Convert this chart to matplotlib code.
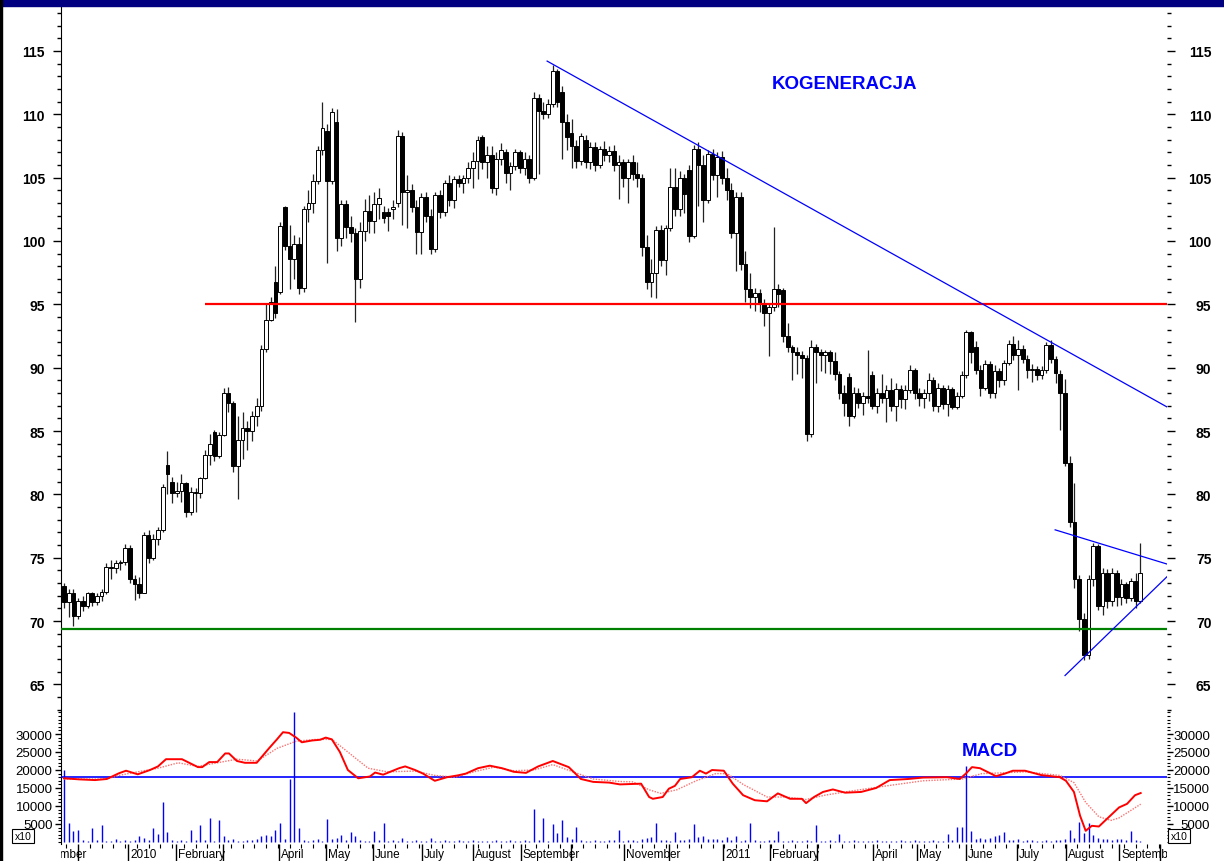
import numpy as np
import matplotlib
matplotlib.use("Agg")
import matplotlib.pyplot as plt
from matplotlib.patches import Rectangle
from matplotlib.transforms import Bbox, TransformedBbox, blended_transform_factory

plt.rcParams['font.family'] = ['Liberation Sans', 'DejaVu Sans']

# KOGENERACJA daily bars, sampled every second session (Nov 2009 - Sep 2011)
opens = [
    72.8, 71.5, 72.2, 70.4, 71.6, 71.2, 72.2, 71.5, 72.0, 72.3,
    74.3, 74.2, 74.6, 74.7, 75.8, 73.3, 72.9, 72.2, 76.8, 75.0,
    76.5, 77.2, 82.3, 81.0, 80.1, 80.3, 80.9, 78.6, 80.2, 80.1,
    81.3, 83.1, 84.9, 83.0, 84.7, 88.0, 87.2, 82.2, 84.3, 85.2,
    85.0, 86.2, 87.0, 91.5, 93.8, 96.8, 96.0, 102.7, 99.6, 98.6,
    99.8, 96.3, 102.5, 103.0, 104.7, 107.2, 108.7, 104.7, 109.4, 100.2,
    102.9, 101.1, 100.6, 97.0, 100.8, 102.4, 101.6, 102.9, 102.3, 102.3,
    102.5, 103.0, 108.3, 103.9, 104.0, 102.7, 100.7, 103.5, 102.0, 99.4,
    103.6, 102.3, 104.6, 103.2, 104.9, 104.6, 105.0, 105.8, 106.3, 108.2,
    106.2, 106.8, 104.2, 106.5, 107.0, 105.4, 105.9, 107.0, 105.8, 106.5,
    105.0, 111.3, 110.3, 110.0, 110.8, 113.4, 111.8, 109.4, 108.5, 107.5,
    106.3, 108.0, 106.2, 107.4, 106.0, 107.3, 106.8, 107.1, 106.0, 106.2,
    105.0, 106.2, 105.3, 105.0, 99.5, 96.8, 97.5, 100.9, 98.5, 101.0,
    104.3, 102.5, 105.0, 105.6, 100.4, 107.3, 106.0, 103.2, 106.9, 105.2,
    106.6, 105.0, 104.0, 100.6, 103.5, 98.2, 96.2, 95.6, 95.9, 95.0,
    94.3, 94.8, 96.2, 96.1, 92.5, 91.6, 91.2, 91.0, 90.8, 84.8,
    91.6, 91.2, 91.0, 91.2, 90.5, 89.5, 88.0, 89.3, 86.2, 88.0,
    87.2, 87.8, 89.4, 87.0, 88.0, 87.6, 88.2, 87.0, 88.3, 87.5,
    88.2, 89.8, 88.0, 87.6, 88.0, 89.0, 87.0, 88.4, 87.1, 88.3,
    86.9, 87.8, 89.4, 92.8, 91.6, 89.8, 88.4, 90.3, 88.0, 89.7,
    89.0, 90.4, 91.9, 91.0, 91.5, 90.7, 89.8, 89.9, 89.4, 89.8,
    91.8, 90.7, 89.5, 88.0, 82.5, 77.8, 73.3, 70.2, 67.3, 73.3,
    75.9, 71.2, 73.8, 71.6, 73.8, 71.9, 72.9, 71.8, 73.2, 71.6,
]
highs = [
    73.0, 72.5, 72.5, 71.8, 72.0, 72.3, 72.3, 72.2, 72.5, 74.6,
    74.8, 74.8, 74.8, 76.1, 76.0, 73.6, 73.5, 77.0, 77.2, 76.9,
    77.4, 80.8, 83.4, 81.4, 81.0, 81.6, 81.0, 80.6, 80.5, 81.4,
    83.5, 84.8, 85.1, 84.9, 88.4, 88.5, 87.4, 86.2, 86.5, 85.8,
    86.6, 87.6, 91.8, 95.0, 95.6, 98.0, 101.5, 102.8, 101.3, 100.5,
    100.3, 102.8, 104.0, 105.3, 107.5, 111.0, 109.2, 110.5, 110.4, 103.2,
    103.2, 102.0, 101.0, 101.5, 103.3, 103.6, 103.9, 104.2, 102.8, 102.6,
    103.2, 108.8, 108.6, 105.2, 104.5, 103.2, 103.8, 103.9, 102.5, 103.9,
    104.0, 104.8, 105.2, 105.1, 105.2, 105.2, 106.2, 107.0, 108.3, 108.4,
    107.5, 107.5, 107.0, 107.7, 107.3, 106.2, 107.3, 107.2, 107.0, 106.8,
    111.8, 111.6, 111.0, 111.2, 113.9, 113.6, 112.2, 110.0, 109.6, 108.0,
    108.5, 108.4, 107.8, 107.8, 107.5, 107.9, 107.5, 107.6, 106.8, 106.5,
    106.5, 106.8, 106.2, 105.3, 100.5, 98.6, 101.2, 101.3, 101.3, 105.8,
    105.8, 105.5, 105.3, 106.0, 107.6, 107.8, 106.8, 107.2, 107.3, 107.0,
    107.1, 105.8, 104.6, 103.9, 103.9, 99.2, 97.5, 96.3, 96.2, 95.4,
    95.0, 101.1, 96.6, 96.3, 93.5, 91.8, 91.6, 91.3, 91.0, 92.2,
    91.9, 91.5, 91.4, 91.4, 91.2, 89.7, 88.6, 89.6, 88.5, 88.4,
    88.1, 91.4, 89.7, 88.4, 89.5, 88.6, 89.2, 88.8, 88.6, 88.6,
    90.2, 90.0, 88.4, 88.3, 89.6, 89.3, 88.8, 88.6, 88.6, 88.5,
    88.1, 89.7, 93.0, 92.9, 92.1, 90.2, 90.6, 90.5, 90.2, 90.0,
    90.6, 92.2, 92.5, 92.2, 91.8, 91.0, 90.3, 90.1, 90.1, 92.0,
    92.2, 90.9, 89.8, 89.1, 83.0, 80.9, 73.6, 70.6, 73.6, 76.2,
    76.1, 74.2, 74.1, 74.2, 74.0, 73.3, 73.1, 73.4, 73.8, 76.2,
]
lows = [
    71.0, 70.3, 69.6, 70.2, 70.8, 71.0, 71.2, 71.3, 71.6, 72.1,
    73.3, 73.8, 74.0, 74.4, 73.0, 71.7, 71.8, 72.2, 74.6, 74.8,
    76.0, 77.0, 80.0, 79.3, 79.8, 79.4, 78.2, 78.4, 78.6, 79.7,
    81.2, 82.3, 82.6, 82.9, 84.6, 86.5, 81.8, 79.6, 82.8, 83.5,
    84.2, 85.4, 86.6, 91.2, 93.7, 93.9, 95.8, 99.3, 96.2, 97.0,
    95.8, 96.0, 101.5, 102.2, 104.5, 106.8, 98.3, 104.5, 99.2, 99.6,
    100.2, 99.9, 93.6, 96.3, 100.0, 100.6, 100.6, 101.7, 101.4, 100.8,
    101.7, 102.7, 101.3, 101.0, 102.3, 99.0, 99.0, 101.5, 99.0, 99.1,
    101.8, 102.0, 102.8, 102.6, 104.3, 103.8, 104.6, 104.2, 104.9, 105.7,
    105.0, 103.8, 103.6, 106.0, 104.6, 104.0, 105.6, 105.4, 105.2, 104.6,
    104.8, 105.3, 109.6, 109.7, 110.6, 110.6, 106.5, 107.2, 105.8, 105.8,
    106.0, 105.8, 105.7, 105.5, 105.8, 106.3, 106.2, 105.5, 103.3, 104.3,
    103.0, 104.8, 104.3, 98.8, 96.2, 95.6, 95.5, 98.0, 97.3, 100.8,
    102.0, 102.0, 102.2, 99.9, 100.2, 102.8, 101.5, 103.0, 104.8, 103.5,
    104.5, 103.2, 100.2, 97.6, 97.7, 95.2, 94.7, 94.5, 94.4, 93.3,
    90.9, 94.5, 94.8, 92.0, 91.2, 89.0, 89.5, 89.2, 84.2, 84.5,
    88.8, 89.7, 89.6, 89.5, 89.0, 87.5, 86.2, 85.4, 86.0, 86.8,
    86.3, 87.2, 86.7, 86.4, 87.2, 85.7, 86.6, 85.8, 86.8, 86.7,
    88.0, 87.5, 87.0, 86.8, 87.4, 86.6, 86.5, 86.7, 86.2, 86.7,
    86.7, 87.6, 89.2, 90.4, 89.5, 87.8, 88.2, 87.6, 87.6, 88.5,
    88.6, 90.2, 90.6, 88.2, 90.4, 89.2, 88.9, 89.0, 89.1, 89.6,
    90.4, 88.8, 85.1, 82.2, 77.4, 72.6, 69.2, 66.9, 67.0, 72.8,
    70.9, 70.5, 71.0, 71.2, 71.2, 71.3, 71.4, 71.6, 71.0, 71.4,
]
closes = [
    71.5, 72.2, 70.4, 71.6, 71.2, 72.2, 71.5, 72.0, 72.3, 74.3,
    74.2, 74.6, 74.7, 75.8, 73.3, 72.9, 72.2, 76.8, 75.0, 76.5,
    77.2, 80.6, 81.6, 80.1, 80.3, 80.9, 78.6, 80.2, 80.1, 81.3,
    83.1, 84.0, 83.0, 84.7, 88.0, 87.2, 82.2, 84.3, 85.2, 85.0,
    86.2, 87.0, 91.5, 93.8, 95.2, 94.3, 101.2, 99.6, 98.6, 99.8,
    96.3, 102.5, 103.0, 104.7, 107.2, 108.9, 104.7, 110.2, 100.2, 102.9,
    101.1, 100.6, 97.0, 100.8, 102.4, 101.6, 102.9, 103.4, 101.8, 102.0,
    102.7, 108.3, 103.9, 104.0, 102.7, 100.7, 103.5, 102.0, 99.4, 103.6,
    102.3, 104.6, 103.2, 104.9, 104.6, 105.0, 105.8, 106.3, 108.0, 106.2,
    106.8, 104.2, 106.5, 107.2, 105.4, 105.9, 107.0, 105.8, 106.5, 105.0,
    111.3, 110.3, 110.0, 110.8, 113.4, 111.0, 109.4, 108.2, 107.5, 106.3,
    108.3, 106.2, 107.4, 106.0, 107.3, 106.8, 107.1, 106.0, 106.2, 105.0,
    106.2, 105.3, 105.0, 99.5, 96.8, 97.5, 100.9, 98.5, 101.0, 104.3,
    102.5, 105.0, 103.7, 100.4, 107.3, 106.0, 103.2, 106.9, 105.2, 106.6,
    105.0, 104.0, 100.6, 103.5, 98.2, 96.2, 95.6, 95.9, 95.0, 94.3,
    94.8, 96.2, 95.8, 92.5, 91.6, 91.2, 91.0, 90.8, 84.8, 91.6,
    91.2, 91.0, 91.2, 90.5, 89.5, 88.0, 87.2, 86.2, 88.0, 87.2,
    87.8, 87.6, 87.0, 88.0, 87.6, 88.2, 87.0, 88.3, 87.5, 88.2,
    89.8, 88.0, 87.6, 88.0, 89.0, 87.0, 88.4, 87.1, 88.3, 86.9,
    87.8, 89.4, 92.8, 91.2, 89.8, 88.4, 90.3, 88.0, 89.7, 89.0,
    90.4, 91.9, 91.0, 91.5, 90.7, 89.8, 89.9, 89.4, 89.8, 91.8,
    90.7, 89.6, 88.0, 82.5, 77.8, 73.3, 70.2, 67.3, 73.3, 75.9,
    71.2, 73.8, 71.6, 73.8, 71.9, 72.9, 71.8, 73.2, 71.6, 73.8,
]
volume = [
    20000, 5300, 3000, 3300, 600, 400, 3800, 500, 4700, 300,
    400, 700, 300, 500, 400, 600, 1800, 1200, 500, 4000,
    2300, 11200, 2800, 600, 400, 500, 300, 3400, 600, 4700,
    500, 6700, 400, 6000, 1800, 500, 900, 400, 300, 600,
    500, 700, 1800, 2000, 1600, 3400, 5200, 800, 17500, 36000,
    3900, 600, 400, 500, 700, 300, 6500, 800, 1000, 2000,
    600, 2800, 1700, 500, 400, 300, 3000, 600, 5400, 400,
    500, 300, 1000, 400, 300, 500, 400, 300, 1000, 400,
    300, 500, 400, 300, 600, 400, 300, 500, 400, 300,
    400, 300, 500, 400, 300, 600, 400, 300, 500, 400,
    9300, 500, 6700, 400, 5100, 2400, 6000, 1400, 800, 4200,
    500, 400, 300, 500, 400, 300, 600, 500, 3400, 400,
    600, 500, 400, 800, 1200, 1500, 5300, 600, 500, 400,
    2800, 600, 500, 700, 5000, 1500, 1800, 900, 800, 700,
    600, 1500, 500, 1700, 400, 600, 5400, 500, 400, 300,
    600, 500, 3000, 400, 300, 500, 400, 300, 500, 400,
    4800, 300, 400, 500, 300, 2200, 400, 300, 500, 400,
    300, 400, 300, 500, 400, 300, 400, 300, 500, 400,
    300, 500, 400, 300, 400, 500, 400, 300, 2300, 600,
    4200, 4200, 21000, 3000, 800, 1000, 900, 1200, 1700, 2000,
    2800, 600, 500, 700, 400, 600, 500, 400, 300, 500,
    400, 600, 500, 800, 3300, 1000, 5600, 2500, 5300, 2000,
    1000, 800, 700, 600, 900, 700, 500, 3100, 600, 400,
]

# MACD line and its signal, read at the bar positions where they turn
macd_idx = [0, 3.2, 6.6, 9.1, 11.7, 13.2, 15.7, 18.3, 20, 21.7, 25.1, 28.5, 29.4,
            30.9, 32.6, 34.3, 35.1, 36.8, 38.5, 41, 43.6, 45.3, 46.6, 47.9, 49.4,
            50.6, 52.8, 54.5, 55.7, 57, 58.7, 60.4, 62.6, 65.1, 66.2, 67.9, 71.3,
            72.6, 74.7, 76.4, 78.9, 81.5, 83.8, 85.5, 88.1, 90.6, 93.2, 95.7, 98.3,
            100.9, 104, 107.4, 110, 112.6, 116, 118.3, 122.8, 124.5, 125.3, 127.4,
            128.7, 130, 131.1, 133.6, 135.3, 136.6, 137.9, 140.4, 142.3, 144.5, 147,
            149.6, 151.9, 154.5, 157, 157.9, 159.6, 161.5, 163.6, 166.2, 169.6,
            172.8, 175.7, 179.6, 182.8, 187.9, 190.6, 191.9, 193.2, 194.9, 198.3,
            200.2, 201.9, 204.5, 207.9, 211.9, 213.2, 214.9, 216.2, 217.4, 218.7,
            220.2, 221.9, 224.5, 226.2, 227.9, 229.1]
macd_val = [17700, 17400, 17200, 17500, 19100, 19800, 18800, 20000, 21000, 23000,
            23000, 20800, 20800, 22200, 22200, 24600, 24600, 22500, 22000, 22000,
            26000, 28500, 30500, 30300, 29000, 27700, 28200, 28400, 29000, 28500,
            25000, 20000, 17700, 18200, 19300, 18700, 20500, 21000, 20000, 19000,
            17000, 18000, 18500, 19000, 20500, 21200, 20500, 19500, 19200, 21000,
            22500, 20800, 17500, 16700, 16500, 16000, 16200, 12500, 12000, 12500,
            14800, 15600, 17500, 18000, 19800, 19000, 20000, 19800, 16200, 13000,
            11600, 11300, 13500, 12000, 12000, 10800, 12500, 13900, 14600, 13700,
            13900, 15000, 17200, 17500, 17900, 18000, 17500, 19000, 20800, 20500,
            18300, 19000, 19800, 19800, 18600, 18000, 17000, 13900, 7300, 3100,
            4500, 4300, 6400, 9600, 10600, 13000, 13600]
signal_idx = [0, 9.1, 11.7, 15.7, 20, 24.3, 28.5, 32.6, 36.8, 41.1, 45.3, 49.4,
              53.6, 57, 60.4, 64.7, 68.7, 74.7, 78.9, 83.2, 87.2, 91.5, 95.7, 100,
              104, 108.3, 112.6, 118.3, 121.1, 124.5, 127, 130.4, 134.5, 138.7,
              141.1, 144.5, 149.6, 153.6, 157.9, 161.9, 166.2, 174.5, 182.8, 191.1,
              195.3, 199.6, 204.5, 211.9, 214.9, 217.4, 220.2, 222.8, 224.5, 229.1]
signal_val = [17500, 17500, 18500, 19500, 20500, 22000, 21000, 22000, 23000, 22500,
              26000, 28000, 28500, 28500, 25000, 20500, 19500, 19700, 18500, 18000,
              19500, 20800, 19800, 20000, 21500, 19500, 17500, 16800, 16700, 14500,
              13500, 14500, 17000, 19000, 19000, 16000, 12500, 12500, 11800, 13000,
              13900, 15500, 17000, 17500, 19000, 19200, 19500, 18500, 16500, 11000,
              7000, 6000, 6700, 10500]

resistance = 95.0
resistance_from = 30.0
support = 69.4
macd_level = 18000

# trend lines: (bar index, price) end points
trend_lines = [
    ((102.8, 114.2), (234.7, 86.9)),
    ((210.9, 77.2), (234.7, 74.5)),
    ((213.0, 65.7), (234.7, 73.5)),
]

month_idx = [-7.2, 3.0, 13.6, 23.8, 33.8, 45.7, 55.7, 65.7, 76.2, 87.0, 97.2,
             107.9, 119.1, 128.7, 140.2, 150.2, 160.2, 172.1, 181.5, 191.9,
             202.8, 213.2, 224.5, 233.2]
month_labels = ["November", "", "2010", "February", "", "April", "May", "June",
                "July", "August", "September", "", "November", "", "2011",
                "February", "", "April", "May", "June", "July", "August",
                "September", ""]

W, H = 1224, 862
fig = plt.figure(figsize=(W / 100, H / 100), dpi=100)


def px_rect(x0, y0, x1, y1):
    return [x0 / W, 1 - y1 / H, (x1 - x0) / W, (y1 - y0) / H]


ax = fig.add_axes(px_rect(61, 8, 1167, 712))
axm = fig.add_axes(px_rect(61, 712, 1167, 845), sharex=ax)

# frame
fig.patches.append(Rectangle((0, 1 - 7 / H), 1, 7 / H, transform=fig.transFigure,
                             color='#000080', zorder=10))
fig.patches.append(Rectangle((0, 0), 2 / W, 1, transform=fig.transFigure,
                             color='black', zorder=10))

# candles
x = np.arange(len(closes))
o = np.array(opens)
c = np.array(closes)
up = c >= o
body_low = np.minimum(o, c)
body_h = np.maximum(np.abs(c - o), 0.1)
ax.vlines(x, lows, highs, color='#222222', linewidth=0.9, zorder=2)
ax.bar(x[up], body_h[up], bottom=body_low[up], width=0.8, facecolor='white',
       edgecolor='black', linewidth=0.7, zorder=3)
ax.bar(x[~up], body_h[~up], bottom=body_low[~up], width=0.8, facecolor='black',
       edgecolor='black', linewidth=0.7, zorder=3)

ax.hlines(resistance, resistance_from, 234.7, color='#ff0000', linewidth=1.6, zorder=4)
ax.axhline(support, color='#008000', linewidth=1.6, zorder=4)
for (x0, y0), (x1, y1) in trend_lines:
    ax.plot([x0, x1], [y0, y1], color='#0000ff', linewidth=0.9, zorder=5)

ax.set_xlim(-0.64, 234.7)
ax.set_ylim(62.9, 118.47)
price_ticks = np.arange(65, 116, 5)
price_minor = np.arange(63, 119, 1)
ax.set_yticks(price_ticks)
ax.set_yticks(price_minor, minor=True)
ax.tick_params(axis='y', which='major', left=True, right=False, direction='out',
               length=6, width=1, pad=5.5, labelsize=10)
ax.tick_params(axis='y', which='minor', left=True, right=False, direction='out',
               length=3, width=1)
ax.tick_params(axis='x', which='both', bottom=False, labelbottom=False)
for lbl in ax.get_yticklabels():
    lbl.set_fontweight('bold')
for sp in ['top', 'right', 'bottom']:
    ax.spines[sp].set_visible(False)

# right-hand price scale, right aligned
axr = ax.twinx()
axr.set_ylim(ax.get_ylim())
axr.set_yticks(price_ticks)
axr.set_yticks(price_minor, minor=True)
axr.tick_params(axis='y', which='major', right=True, direction='out', length=6,
                width=1, pad=26, labelsize=10)
axr.tick_params(axis='y', which='minor', right=True, direction='out', length=3, width=1)
for lbl in axr.get_yticklabels():
    lbl.set_fontweight('bold')
    lbl.set_horizontalalignment('right')
for sp in axr.spines.values():
    sp.set_visible(False)

ax.text(0.708, 0.892, "KOGENERACJA", transform=ax.transAxes, color='#0000ff',
        fontsize=13.5, fontweight='bold', ha='center', va='center')

# MACD panel with volume
axm.vlines(x, 0, volume, color='#0000ff', linewidth=1.0, zorder=2)
axm.axhline(macd_level, color='#0000ff', linewidth=1.2, zorder=3)
axm.plot(signal_idx, signal_val, color='#ff7070', linewidth=1.0, linestyle=(0, (1, 1)), zorder=4)
axm.plot(macd_idx, macd_val, color='#ff0000', linewidth=1.4, zorder=5)
axm.set_ylim(-556, 36389)
macd_ticks = np.arange(5000, 30001, 5000)
macd_minor = np.arange(0, 36001, 1000)
axm.set_yticks(macd_ticks)
axm.set_yticks(macd_minor, minor=True)
axm.tick_params(axis='y', which='major', left=True, right=False, direction='out',
                length=4, width=1, pad=2, labelsize=9.5)
axm.tick_params(axis='y', which='minor', left=True, right=False, direction='out',
                length=2, width=0.8)
for sp in ['top', 'right', 'bottom']:
    axm.spines[sp].set_visible(False)

axm.set_xticks([m for m in month_idx if m > -0.6])
axm.set_xticks(np.arange(0.5, 234.7, 2.5), minor=True)
axm.tick_params(axis='x', which='major', bottom=True, direction='out', length=12.5,
                width=1, labelbottom=False)
axm.tick_params(axis='x', which='minor', bottom=True, direction='out', length=3,
                width=0.8)

axmr = axm.twinx()
axmr.set_ylim(axm.get_ylim())
axmr.set_yticks(macd_ticks)
axmr.set_yticks(macd_minor, minor=True)
axmr.tick_params(axis='y', which='major', right=True, direction='out', length=4,
                 width=1, pad=27, labelsize=9.5)
axmr.tick_params(axis='y', which='minor', right=True, direction='out', length=2, width=0.8)
for lbl in axmr.get_yticklabels():
    lbl.set_horizontalalignment('right')
for sp in axmr.spines.values():
    sp.set_visible(False)

axm.text(0.84, 0.70, "MACD", transform=axm.transAxes, color='#0000ff',
         fontsize=13.5, fontweight='bold', ha='center', va='center')

# month names, clipped to the chart width
clip = TransformedBbox(Bbox([[0, 0], [1, 1]]),
                       blended_transform_factory(axm.transAxes, fig.transFigure))
lbl_tr = blended_transform_factory(axm.transData, fig.transFigure)
for m, name in zip(month_idx, month_labels):
    if name:
        t = fig.text(m + 0.45, 1 - 855 / H, name, transform=lbl_tr, fontsize=8.5,
                     ha='left', va='center')
        t.set_clip_box(clip)
        t.set_clip_on(True)

for xp in (23, 1179):
    fig.text(xp / W, 1 - 837 / H, "x10", fontsize=7.5, ha='center', va='center',
             bbox=dict(boxstyle='square,pad=0.2', facecolor='white',
                       edgecolor='black', linewidth=0.8))

fig.savefig("out.png", dpi=100)
